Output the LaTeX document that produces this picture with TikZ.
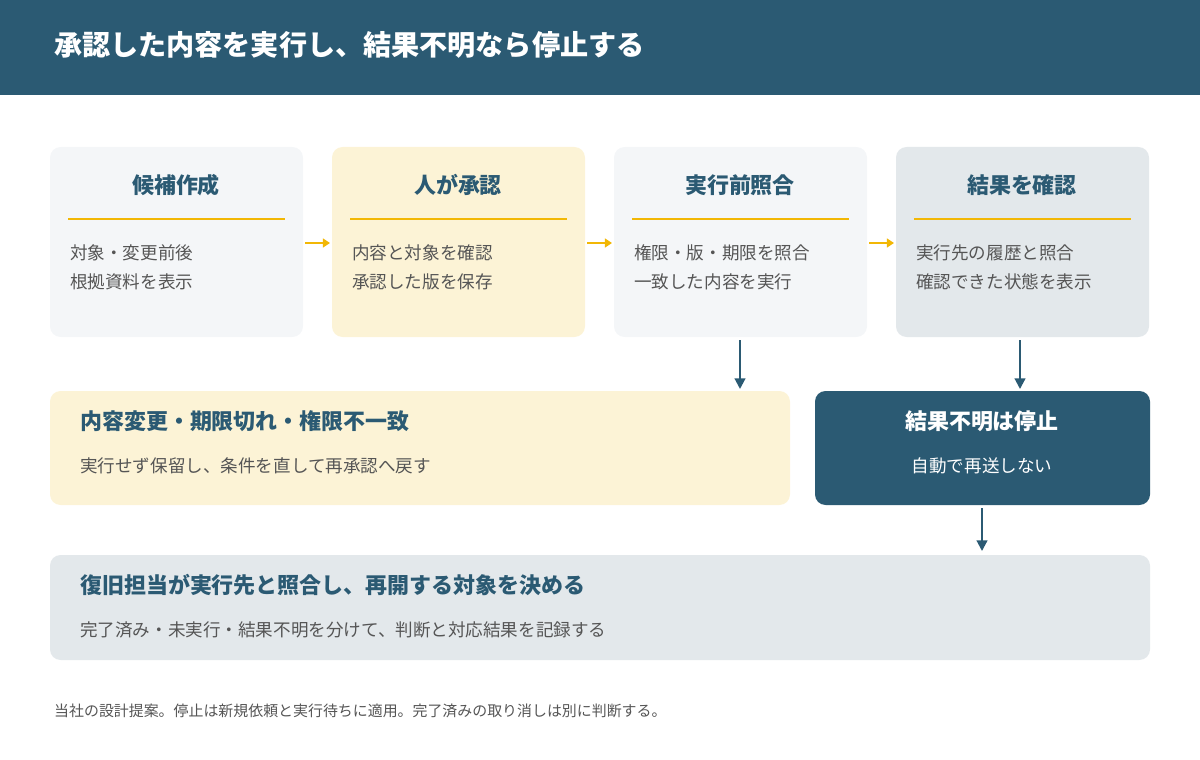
\documentclass[tikz,border=0pt]{standalone}
\usepackage{fontspec}
\setmainfont{Noto Sans CJK JP}
\usetikzlibrary{arrows.meta}
\definecolor{myteal}{HTML}{2B5A73}
\definecolor{mygray}{HTML}{F4F6F8}
\definecolor{mycream}{HTML}{FCF3D6}
\definecolor{myslate}{HTML}{E3E8EB}
\definecolor{myyellow}{HTML}{F2B705}
\definecolor{mytext}{HTML}{555555}
\tikzset{
    step box/.style={rounded corners=6pt, draw=none},
    step title/.style={font=\fontsize{12.5}{14}\selectfont\bfseries, color=myteal},
    step body/.style={anchor=west, font=\fontsize{10}{12}\selectfont, color=mytext},
    side arrow/.style={-{Triangle[length=4pt,width=5pt]}, myyellow, line width=1.2pt},
    down arrow/.style={-{Triangle[length=6pt,width=6pt]}, myteal, line width=1.2pt},
}
\begin{document}
\begin{tikzpicture}[x=0.02cm, y=-0.02cm]
    \useasboundingbox (0, 0) rectangle (1200, 760);
    % Header bar
    \fill[myteal] (0, 0) rectangle (1200, 95);
    \node[anchor=west, color=white, font=\fontsize{16}{18}\selectfont\bfseries] (title) at (48, 45) {承認した内容を実行し、結果不明なら停止する};

    % Top row of steps
    \fill[step box, mygray] (50, 147) rectangle (303, 337);
    \fill[step box, mycream] (332, 147) rectangle (585, 337);
    \fill[step box, mygray] (614, 147) rectangle (867, 337);
    \fill[step box, myslate] (896, 147) rectangle (1149, 337);
    \foreach \x/\t/\a/\b [count=\i] in {
        50/候補作成/対象・変更前後/根拠資料を表示,
        332/人が承認/内容と対象を確認/承認した版を保存,
        614/実行前照合/権限・版・期限を照合/一致した内容を実行,
        896/結果を確認/実行先の履歴と照合/確認できた状態を表示} {
        \node[step title] (t\i) at (\x+126, 185) {\t};
        \draw[myyellow, line width=1.5pt] (\x+18, 219) -- (\x+235, 219);
        \node[step body] (a\i) at (\x+14, 253) {\a};
        \node[step body] (b\i) at (\x+14, 282) {\b};
    }
    % Small arrows between steps
    \coordinate (s1) at (305, 243); \coordinate (e1) at (330, 243);
    \coordinate (s2) at (587, 243); \coordinate (e2) at (612, 243);
    \coordinate (s3) at (869, 243); \coordinate (e3) at (894, 243);
    \foreach \i in {1,2,3} \draw[side arrow] (s\i) -- (e\i);

    % Down arrows
    \coordinate (d1) at (740, 340); \coordinate (f1) at (740, 389);
    \coordinate (d2) at (1020, 340); \coordinate (f2) at (1020, 389);
    \coordinate (d3) at (982, 508); \coordinate (f3) at (982, 551);
    \foreach \i in {1,2,3} \draw[down arrow] (d\i) -- (f\i);

    % Hold box
    \fill[step box, mycream] (50, 391) rectangle (790, 505);
    \node[step title, anchor=west] (hold) at (74, 421) {内容変更・期限切れ・権限不一致};
    \node[step body] (holdbody) at (74, 466) {実行せず保留し、条件を直して再承認へ戻す};

    % Stop box
    \fill[step box, myteal] (815, 391) rectangle (1150, 505);
    \node[step title, color=white] (stop) at (982, 421) {結果不明は停止};
    \node[font=\fontsize{10}{12}\selectfont, color=white] (stopbody) at (982, 466) {自動で再送しない};

    % Recovery box
    \fill[step box, myslate] (50, 555) rectangle (1150, 660);
    \node[step title, anchor=west] (rec) at (74, 585) {復旧担当が実行先と照合し、再開する対象を決める};
    \node[step body] (recbody) at (74, 630) {完了済み・未実行・結果不明を分けて、判断と対応結果を記録する};

    % Footnote
    \node[anchor=west, color=mytext, font=\fontsize{8.5}{10}\selectfont] (note) at (48, 711) {当社の設計提案。停止は新規依頼と実行待ちに適用。完了済みの取り消しは別に判断する。};
\end{tikzpicture}
\end{document}
